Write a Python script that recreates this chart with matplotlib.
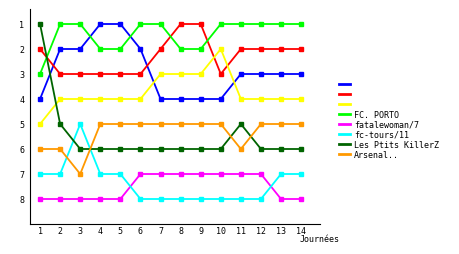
import matplotlib
matplotlib.use("Agg")
import matplotlib.pyplot as plt
from matplotlib.lines import Line2D

# Classement par journée
journees = list(range(1, 15))
noms = ["", "", "", "FC. PORTO", "fatalewoman/7", "fc-tours/11",
        "Les Ptits KillerZ", "Arsenal.."]
couleurs = ["#0000ff", "#ff0000", "#ffff00", "#00ff00", "#ff00ff",
            "#00ffff", "#006400", "#ff9900"]

bleu = [4, 2, 2, 1, 1, 2, 4, 4, 4, 4, 3, 3, 3, 3]
rouge = [2, 3, 3, 3, 3, 3, 2, 1, 1, 3, 2, 2, 2, 2]
jaune = [5, 4, 4, 4, 4, 4, 3, 3, 3, 2, 4, 4, 4, 4]
porto = [3, 1, 1, 2, 2, 1, 1, 2, 2, 1, 1, 1, 1, 1]
fatalewoman = [8, 8, 8, 8, 8, 7, 7, 7, 7, 7, 7, 7, 8, 8]
tours = [7, 7, 5, 7, 7, 8, 8, 8, 8, 8, 8, 8, 7, 7]
killerz = [1, 5, 6, 6, 6, 6, 6, 6, 6, 6, 5, 6, 6, 6]
arsenal = [6, 6, 7, 5, 5, 5, 5, 5, 5, 5, 6, 5, 5, 5]
series = [bleu, rouge, jaune, porto, fatalewoman, tours, killerz, arsenal]

plt.rcParams["font.family"] = "DejaVu Sans Mono"

fig = plt.figure(figsize=(4.6, 2.55), dpi=100)
ax = fig.add_axes([30 / 460, 30 / 255, 290 / 460, 215 / 255])

for vals, c in zip(series, couleurs):
    ax.plot(journees, vals, color=c, lw=1.3, marker="s", ms=2.5)

ax.set_xlim(0.5, 14.94)
ax.set_ylim(9, 0.4)
ax.set_xticks(journees)
ax.set_yticks(range(1, 9))
ax.tick_params(length=0, labelsize=6)
ax.tick_params(axis="x", pad=1.5)
ax.tick_params(axis="y", pad=4)
for s in ["top", "right"]:
    ax.spines[s].set_visible(False)

fig.text(320 / 460, 1 - 240 / 255, "Journées", fontsize=6,
         ha="center", va="center")

# légende : traits seuls, sans marqueurs
handles = [Line2D([], [], color=c, lw=2) for c in couleurs]
fig.legend(handles, noms, loc="upper left",
           bbox_to_anchor=(339 / 460, 1 - 81 / 255), frameon=False,
           fontsize=6, handlelength=1.3, handletextpad=0.5,
           labelspacing=0.12, borderpad=0, borderaxespad=0)

fig.savefig("out.png", dpi=100)
